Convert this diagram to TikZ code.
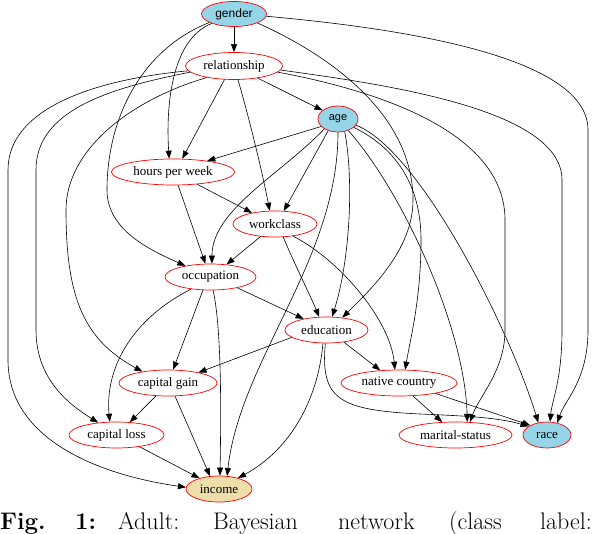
\documentclass[tikz,border=0pt]{standalone}
\usepackage{fontspec}
\newfontfamily\nsans{Liberation Sans}
\newfontfamily\nserif{Liberation Serif}
\usetikzlibrary{shapes.geometric,arrows.meta}
\definecolor{nodeblue}{RGB}{150,212,232}
\definecolor{nodewheat}{RGB}{238,222,172}
\tikzset{
  bn/.style={ellipse, draw=red, line width=0.7pt, inner sep=0pt, minimum height=26pt,
             font=\nserif\fontsize{13}{15}\selectfont},
  obs/.style={bn, fill=nodeblue},
  cls/.style={bn, fill=nodewheat},
  edge/.style={line width=0.6pt, -{Triangle[length=8pt,width=6pt]}},
}
\begin{document}
\begin{tikzpicture}[x=1pt,y=-1pt]
\useasboundingbox (0,0) rectangle (596,534);
% nodes
\node[obs, minimum width=65pt, minimum height=25pt, font=\nsans\fontsize{12}{14}\selectfont] (G) at (234,14) {gender};
\node[bn, minimum width=97pt, minimum height=27pt] (R) at (234,66) {relationship};
\node[obs, minimum width=40pt, font=\nsans\fontsize{11}{13}\selectfont] (A) at (338,119) {age};
\node[bn, minimum width=123pt] (H) at (173,172) {hours per week};
\node[bn, minimum width=84pt] (W) at (275,224) {workclass};
\node[bn, minimum width=91pt] (O) at (210.5,277) {occupation};
\node[bn, minimum width=83pt] (E) at (326.5,330) {education};
\node[bn, minimum width=116pt] (N) at (399,383) {native country};
\node[bn, minimum width=98pt] (CG) at (168,383) {capital gain};
\node[bn, minimum width=95pt] (CL) at (116.5,435) {capital loss};
\node[bn, minimum width=113pt] (M) at (455.5,435) {marital-status};
\node[obs, minimum width=48pt] (Rc) at (547,435) {race};
\node[cls, minimum width=66pt] (I) at (219,489) {income};
% edges from gender
\draw[edge] (G) -- (R);
\draw[edge] (G.203) .. controls (170,40) and (166,110) .. (H.106);
\draw[edge] (G.199) .. controls (140,50) and (107,120) .. (107,190) .. controls (107,230) and (150,250) .. (O.156);
\draw[edge] (G.-21) .. controls (340,60) and (413,120) .. (413,200) .. controls (413,250) and (370,290) .. (E.38);
\draw[edge] (G.-4) .. controls (420,30) and (588,60) .. (588,130) -- (588,330) .. controls (588,380) and (565,400) .. (Rc.50);
% edges from relationship
\draw[edge] (R.-27) -- (A.151);
\draw[edge] (R.-125) -- (H.55);
\draw[edge] (R.-74) .. controls (247,110) and (262,170) .. (W.112);
\draw[edge] (R.-157) .. controls (130,100) and (66,150) .. (66,210) .. controls (66,300) and (85,340) .. (CG.156);
\draw[edge] (R.-172) .. controls (110,88) and (36,110) .. (36,170) -- (36,330) .. controls (36,380) and (70,405) .. (CL.146);
\draw[edge] (R.-174) .. controls (90,80) and (8,110) .. (8,170) -- (8,360) .. controls (8,440) and (100,475) .. (I.177);
\draw[edge] (R.-8) .. controls (400,95) and (505,140) .. (505,220) -- (505,330) .. controls (505,370) and (480,395) .. (M.42);
\draw[edge] (R.-5) .. controls (390,85) and (562,110) .. (562,180) -- (562,330) .. controls (562,380) and (552,400) .. (Rc.77);
% edges from age
\draw[edge] (A.-156) -- (H.18);
\draw[edge] (A.-130) -- (W.56);
\draw[edge] (A.-144) .. controls (280,175) and (212,210) .. (O.84);
\draw[edge] (A.-62) .. controls (354,180) and (350,260) .. (E.67);
\draw[edge] (A.-90) .. controls (338,260) and (240,360) .. (I.58);
\draw[edge] (A.-28) .. controls (400,150) and (421,190) .. (421,240) .. controls (421,300) and (410,340) .. (N.65);
\draw[edge] (A.-48) .. controls (405,195) and (465,330) .. (M.48);
\draw[edge] (A.-19) .. controls (420,150) and (510,330) .. (Rc.125);
% hours per week
\draw[edge] (H.-69) -- (O.111);
\draw[edge] (H.-27) -- (W.154);
% workclass
\draw[edge] (W.-139) -- (O.38);
\draw[edge] (W.-58) .. controls (295,265) and (310,295) .. (E.119);
\draw[edge] (W.-34) .. controls (340,260) and (390,320) .. (N.107);
% occupation
\draw[edge] (O.-22) -- (E.154);
\draw[edge] (O.-120) -- (CG.69);
\draw[edge] (O.-148) .. controls (130,320) and (105,370) .. (CL.117);
\draw[edge] (O.-79) .. controls (222,330) and (221,420) .. (I.86);
% education
\draw[edge] (E.-35) -- (N.146);
\draw[edge] (E.-168) -- (CG.19);
\draw[edge] (E.-105) .. controls (318,400) and (290,450) .. (I.30);
\draw[edge] (E.-95) .. controls (320,400) and (340,410) .. (420,414) .. controls (470,416) and (500,418) .. (Rc.155);
% capital gain / loss
\draw[edge] (CG.-133) -- (CL.44);
\draw[edge] (CG.-62) -- (I.125);
\draw[edge] (CL.-27) -- (I.151);
% native country
\draw[edge] (N.-43) -- (M.136);
\draw[edge] (N.-16) -- (Rc.150);
% caption
\node[anchor=base west, inner sep=0pt, font=\fontsize{24}{28}\selectfont] (cap) at (0,529)
  {\hbox{\makebox[75pt][l]{\textbf{Fig.}}\makebox[43pt][l]{\textbf{1:}}\makebox[95pt][l]{Adult:}\makebox[125pt][l]{Bayesian}\makebox[111pt][l]{network}\makebox[91pt][l]{(class}label:}};
\end{tikzpicture}
\end{document}
